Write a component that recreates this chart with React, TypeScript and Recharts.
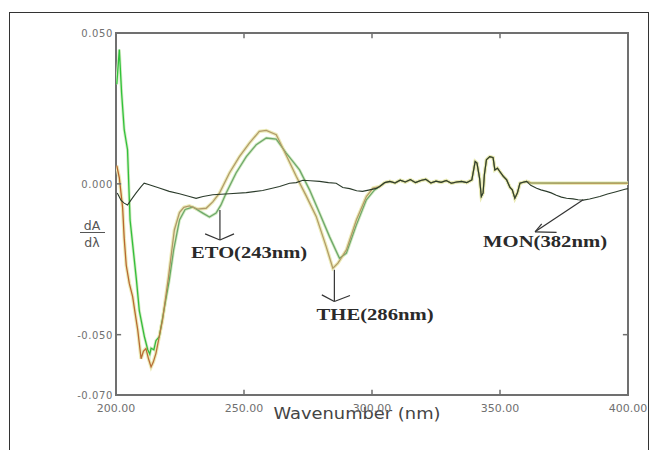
import React from 'react';
import { ComposedChart, Line, XAxis, YAxis, ReferenceArea, ReferenceLine, ReferenceDot, Label } from 'recharts';

const xTicks = [200, 250, 300, 350, 400];
const yTicks = [0.05, 0, -0.05, -0.07];

// THE-like curve (khaki/brown), 200-301 nm
const khakiNm = [200.3, 201.3, 202.6, 203.2, 204.0, 205.2, 206.5, 207.5, 208.5, 209.8, 210.7, 211.7, 212.7, 213.7, 214.6, 215.6, 218.2, 220.5, 222.8, 224.8, 226.5, 228.7, 231.9, 235.2, 237.8, 240.4, 244.3, 248.2, 252.1, 256.0, 258.7, 262.6, 266.5, 270.4, 274.3, 278.2, 282.1, 284.7, 286.7, 290.0, 293.9, 297.8, 300.4];
const khakiVal = [0.006, 0.002, -0.008, -0.018, -0.027, -0.033, -0.0374, -0.043, -0.0485, -0.058, -0.0555, -0.0546, -0.058, -0.0607, -0.059, -0.0562, -0.045, -0.031, -0.0153, -0.0095, -0.0078, -0.0073, -0.0084, -0.0081, -0.006, -0.0031, 0.0036, 0.009, 0.0135, 0.0174, 0.0177, 0.0163, 0.0095, 0.0025, -0.004, -0.0108, -0.0208, -0.028, -0.0263, -0.0219, -0.012, -0.0042, -0.0014];

// ETO-like curve (green), 200-301 nm
const greenNm = [200.3, 201.3, 202.2, 203.2, 204.5, 205.5, 206.5, 208.0, 209.1, 211.1, 212.4, 213.2, 213.7, 214.8, 215.6, 216.9, 218.5, 220.8, 222.5, 224.8, 227.0, 230.0, 233.9, 236.5, 239.1, 241.0, 243.0, 246.9, 250.9, 254.8, 258.7, 262.6, 266.5, 269.0, 271.7, 275.6, 279.5, 283.4, 287.3, 290.0, 293.9, 297.8, 301.0];
const greenVal = [0.033, 0.0445, 0.03, 0.018, 0.0113, -0.012, -0.02, -0.032, -0.042, -0.0507, -0.055, -0.0565, -0.0545, -0.055, -0.052, -0.0507, -0.043, -0.032, -0.022, -0.012, -0.0085, -0.0077, -0.0097, -0.011, -0.0097, -0.007, -0.0031, 0.0036, 0.009, 0.013, 0.0152, 0.0148, 0.0102, 0.0075, 0.0046, -0.002, -0.0097, -0.0175, -0.0247, -0.023, -0.0136, -0.0053, -0.002];

// MON-like curve (dark), 200-302 nm
const darkNm = [200.5, 202.0, 203.2, 204.5, 205.9, 207.8, 209.8, 211.0, 213.0, 216.9, 220.8, 224.8, 228.7, 231.3, 234.0, 237.8, 244.3, 250.9, 257.3, 263.9, 267.8, 270.4, 273.0, 276.0, 279.5, 283.0, 286.0, 288.6, 291.3, 294.0, 296.3, 299.1, 301.7];
const darkVal = [-0.003, -0.0055, -0.0064, -0.007, -0.0053, -0.0031, -0.0009, 0.0002, -0.0003, -0.0014, -0.0025, -0.0033, -0.0042, -0.0048, -0.0042, -0.0036, -0.0033, -0.0029, -0.0022, -0.0009, 0.0002, 0.0004, 0.0012, 0.001, 0.0008, 0.0004, 0.0002, -0.0012, -0.0016, -0.0023, -0.0025, -0.002, -0.0015];

// shared noisy region, 303-361 nm
const noiseNm = [303, 305, 307, 309, 311, 313, 315, 317, 319, 321, 323, 325, 327, 329, 331, 333, 335, 337, 339, 340.3, 341, 342, 342.7, 343.4, 343.9, 344.7, 346.0, 347.3, 348.0, 349.0, 350.0, 351.3, 352.6, 353.9, 354.8, 355.8, 356.8, 357.8, 359.0, 360.4];
const noiseVal = [-0.0009, 0.0004, 0.0008, 0.0003, 0.0012, 0.0006, 0.0014, 0.0004, 0.0011, 0.0015, 0.0003, 0.0009, 0.0005, 0.0011, 0.0002, 0.0006, 0.0008, 0.0004, 0.0013, 0.0074, 0.0069, 0.002, -0.0042, -0.003, 0.003, 0.008, 0.009, 0.0087, 0.0046, 0.0052, 0.004, 0.0025, 0.0013, -0.0012, -0.002, -0.0048, -0.003, 0.0002, 0.0005, 0.0008];

const lightTailNm = [362, 380, 400];
const lightTailVal = [0.0003, 0.0002, 0.0002];

const darkTailNm = [362, 364.3, 366, 368.2, 370, 372, 374, 376, 378.5, 380.5, 382.5, 385, 387, 389, 392, 395, 398.8, 400];
const darkTailVal = [-0.0005, -0.0015, -0.002, -0.0025, -0.003, -0.0038, -0.0044, -0.0048, -0.005, -0.0053, -0.0054, -0.005, -0.0046, -0.0042, -0.0034, -0.0027, -0.0018, -0.0016];

const toPts = (nm: number[], v: number[]) => nm.map((x, i) => ({ x, y: v[i] }));
const khakiData = [...toPts(khakiNm, khakiVal), ...toPts(noiseNm, noiseVal), ...toPts(lightTailNm, lightTailVal)];
const greenData = [...toPts(greenNm, greenVal), ...toPts(noiseNm, noiseVal), ...toPts(lightTailNm, lightTailVal)];
const darkData = [...toPts(darkNm, darkVal), ...toPts(noiseNm, noiseVal), ...toPts(darkTailNm, darkTailVal)];

const annotations = [
  { text: 'ETO(243nm)', x: 252.0, y: -0.0226, len: 116 },
  { text: 'THE(286nm)', x: 301.2, y: -0.0433, len: 117 },
  { text: 'MON(382nm)', x: 367.6, y: -0.0192, len: 124 },
];

const arrows = [
  [[240.6, -0.0087], [240.6, -0.0186]],
  [[234.8, -0.0166], [240.6, -0.0186]],
  [[246.1, -0.0166], [240.6, -0.0186]],
  [[285.3, -0.0285], [285.3, -0.039]],
  [[280.4, -0.0368], [285.3, -0.039]],
  [[291.4, -0.037], [285.3, -0.039]],
  [[382.5, -0.0053], [363.7, -0.0159]],
  [[372.1, -0.0161], [363.7, -0.0159]],
  [[366.3, -0.0133], [363.7, -0.0159]],
];

const innerTicks = [
  [[250, 0.05], [250, 0.0483]], [[300, 0.05], [300, 0.0483]], [[350, 0.05], [350, 0.0483]],
  [[250, -0.07], [250, -0.0683]], [[300, -0.07], [300, -0.0683]], [[350, -0.07], [350, -0.0683]],
  [[200, 0.05], [202, 0.05]], [[200, 0], [202, 0]], [[200, -0.05], [202, -0.05]],
  [[398, -0.05], [400, -0.05]],
];

const XTick = (props: any) => {
  const { x, y, payload } = props;
  return (
    <text x={x} y={y + 17} textAnchor="middle" fontSize={11} fontFamily="DejaVu Sans" fill="#707070">
      {Number(payload.value).toFixed(2)}
    </text>
  );
};

const YTick = (props: any) => {
  const { x, y, payload } = props;
  return (
    <text x={x} y={y + 4} textAnchor="end" fontSize={10} letterSpacing={0.6} fontFamily="DejaVu Sans" fill="#707070">
      {Number(payload.value).toFixed(3)}
    </text>
  );
};

const makeAnnot = (a: { text: string; len: number }) => (props: any) => {
  const vb = props.viewBox || {};
  const cx = (vb.x || 0) + (vb.width || 0) / 2;
  const cy = (vb.y || 0) + (vb.height || 0) / 2;
  return (
    <text x={cx} y={cy + 5.5} textAnchor="middle" fontSize={17} fontWeight="bold"
      fontFamily="Liberation Serif, serif" fill="#2a2a2a" textLength={a.len} lengthAdjust="spacingAndGlyphs">
      {a.text}
    </text>
  );
};

export default function App() {
  return (
    <div style={{ position: 'absolute', left: 0, top: 0, width: 654, height: 450, background: '#fff', overflow: 'hidden' }}>
      <div style={{ position: 'absolute', left: 9, top: 12, width: 640, height: 460, border: '1px solid #333', boxSizing: 'border-box' }} />
      <div style={{ position: 'absolute', left: 0, top: 0 }}>
        <ComposedChart width={654} height={450} margin={{ top: 33, right: 26, left: 0, bottom: 25 }}>
          <defs>
            <linearGradient id="gGreen" x1="0" y1="0" x2="1" y2="0">
              <stop offset="0%" stopColor="#2fc43a" />
              <stop offset="8%" stopColor="#38b83c" />
              <stop offset="11%" stopColor="#6ea86a" />
              <stop offset="100%" stopColor="#6ea86a" />
            </linearGradient>
            <linearGradient id="gKhaki" x1="0" y1="0" x2="1" y2="0">
              <stop offset="0%" stopColor="#b8642c" />
              <stop offset="8%" stopColor="#b8723c" />
              <stop offset="11%" stopColor="#b09a6c" />
              <stop offset="100%" stopColor="#b8a060" />
            </linearGradient>
          </defs>
          <XAxis type="number" dataKey="x" domain={[200, 400]} ticks={xTicks} allowDataOverflow
            axisLine={false} tickLine={false} tickSize={0} tickMargin={0} height={30} tick={<XTick />} interval={0}>
            <Label content={() => (
              <text x={357} y={419} textAnchor="middle" fontSize={16} fontFamily="DejaVu Sans" fill="#444"
                textLength={167} lengthAdjust="spacingAndGlyphs">Wavenumber (nm)</text>
            )} />
          </XAxis>
          <YAxis type="number" domain={[-0.07, 0.05]} ticks={yTicks} allowDataOverflow width={116}
            axisLine={false} tickLine={false} tickSize={0} tickMargin={3} tick={<YTick />} interval={0}>
            <Label content={() => (
              <g fill="#555" fontFamily="DejaVu Sans" fontSize={12.5}>
                <text x={92} y={230} textAnchor="middle">dA</text>
                <line x1={80} y1={232.5} x2={105} y2={232.5} stroke="#555" strokeWidth={1} />
                <text x={92} y={246.5} textAnchor="middle">dλ</text>
              </g>
            )} />
          </YAxis>

          <Line data={greenData} dataKey="y" type="linear" dot={false} stroke="#d4ebc4" strokeWidth={3} isAnimationActive={false} />
          <Line data={khakiData} dataKey="y" type="linear" dot={false} stroke="#ecebb8" strokeWidth={3.5} isAnimationActive={false} />
          <Line data={greenData} dataKey="y" type="linear" dot={false} stroke="url(#gGreen)" strokeWidth={1.3} isAnimationActive={false} />
          <Line data={khakiData} dataKey="y" type="linear" dot={false} stroke="url(#gKhaki)" strokeWidth={1.3} isAnimationActive={false} />
          <Line data={darkData} dataKey="y" type="linear" dot={false} stroke="#2c3c2c" strokeWidth={1.1} isAnimationActive={false} />

          <ReferenceArea x1={200} x2={400} y1={-0.07} y2={0.05} fill="none" stroke="#707070" strokeWidth={2} ifOverflow="visible" />
          {innerTicks.map((s, i) => (
            <ReferenceLine key={'t' + i} segment={[{ x: s[0][0], y: s[0][1] }, { x: s[1][0], y: s[1][1] }]} stroke="#707070" strokeWidth={1.5} ifOverflow="visible" />
          ))}
          {arrows.map((s, i) => (
            <ReferenceLine key={'a' + i} segment={[{ x: s[0][0], y: s[0][1] }, { x: s[1][0], y: s[1][1] }]} stroke="#333" strokeWidth={1.2} ifOverflow="visible" />
          ))}
          {annotations.map((a, i) => (
            <ReferenceDot key={'n' + i} x={a.x} y={a.y} r={0} fill="none" stroke="none" ifOverflow="visible" label={{ content: makeAnnot(a) }} />
          ))}
        </ComposedChart>
      </div>
    </div>
  );
}
